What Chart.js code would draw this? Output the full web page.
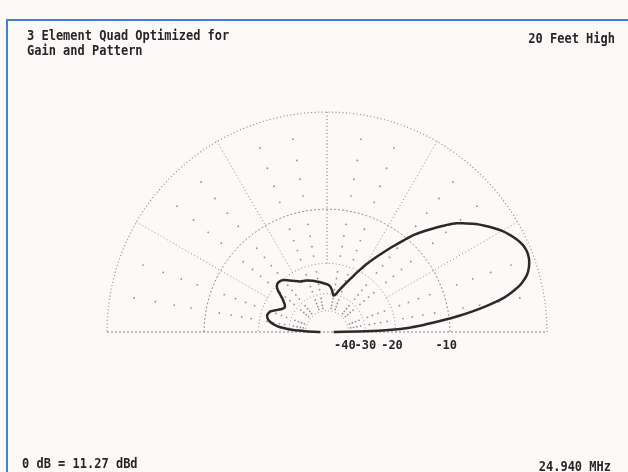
<!DOCTYPE html>
<html>
<head>
<meta charset="utf-8">
<script src="https://cdn.jsdelivr.net/npm/chart.js@4.4.1/dist/chart.umd.min.js"></script>
<style>
  html, body { margin: 0; padding: 0; background: #fcf9f8; overflow: hidden; }
  #wrap { position: relative; width: 628px; height: 472px; }
  #frame {
    position: absolute; left: 6px; top: 19px; width: 640px; height: 470px;
    border-top: 2px solid #437fd2; border-left: 2px solid #437fd2;
  }
  canvas { position: absolute; left: 0; top: 0; }
  .txt {
    position: absolute; font: bold 12px "DejaVu Sans Mono", monospace; color: #262626;
    white-space: pre; line-height: 14px; transform: scaleY(1.2); transform-origin: 0 50%;
  }
</style>
</head>
<body>
<div id="wrap">
  <div id="frame"></div>
  <canvas id="chart" width="628" height="472"></canvas>
  <div class="txt" style="left:27px; top:28px;">3 Element Quad Optimized for</div>
  <div class="txt" style="left:27px; top:43px;">Gain and Pattern</div>
  <div class="txt" style="right:13px; top:31px; text-align:right; transform-origin:100% 50%;">20 Feet High</div>
  <div class="txt" style="left:22px; top:456px;">0 dB = 11.27 dBd</div>
  <div class="txt" style="right:17px; top:459px; text-align:right; transform-origin:100% 50%;">24.940 MHz</div>
</div>
<script>
// grid: ARRL log scale rings, radial spokes, tick labels
const ringDb = [0, -10, -20, -30, -40];
const tickDb = [-40, -30, -20, -10];
const tickLabels = ["-40", "-30", "-20", "-10"];
const radialDeg = [30, 60, 90, 120, 150];
const dotDb = [-2, -4, -6, -8, -12, -14, -16, -18, -22, -24, -26, -28, -32, -34, -36, -38];
const dotDeg = [10, 20, 40, 50, 70, 80, 100, 110, 130, 140, 160, 170];

// elevation pattern, degrees above horizon -> dB
const elevDeg = [0, 1, 2, 3, 4, 5, 6, 7, 8, 9, 10, 11, 12, 13, 14, 16, 18, 20, 22, 24, 26, 28, 30,
  32, 34, 36, 38, 40, 42, 44, 46, 48, 50, 52.5, 55, 57, 60, 63, 66, 70, 74, 77, 80, 83, 86, 90,
  94, 100, 106, 112, 118, 124, 130, 135, 138, 140, 142, 144, 147, 150, 153, 156, 160, 164, 167,
  170, 172, 174, 176, 177.5, 179, 180];
const gainDb = [-60, -30, -21, -16.8, -14.5, -12.5, -10.5, -8.6, -7.0, -5.6, -4.4, -3.4, -2.7, -2.1, -1.6, -0.95, -0.6, -0.4, -0.35, -0.45, -0.7, -1.05, -1.45,
  -1.95, -2.5, -3.1, -3.8, -4.5, -5.5, -6.6, -7.7, -8.9, -10.4, -12.3, -14.2, -15.6, -17.8, -20.3, -22.7, -25.5, -28, -29.8, -30.5, -28.5, -27, -26.2,
  -25.8, -25.1, -24.3, -23.6, -23.1, -21.8, -20.2, -19.8, -20.3, -21.3, -22.8, -24.0, -25.3, -25.8, -25.2, -24.0, -22.3, -21.7, -22.0,
  -23.0, -24.3, -26.2, -30.5, -38, -48, -60];

function arrl(db) { return Math.pow(0.89, -db / 2); }
function toXY(deg, db) {
  const a = deg * Math.PI / 180, r = arrl(db);
  return { x: r * Math.cos(a), y: r * Math.sin(a) };
}

const gridColor = "rgba(110,110,110,0.75)";
const datasets = [];

datasets.push({
  data: elevDeg.map((d, i) => toXY(d, gainDb[i])),
  showLine: true, borderColor: "#2a2a2a", borderWidth: 2.5, pointRadius: 0,
  tension: 0.3, clip: false
});

ringDb.forEach(db => {
  const pts = [];
  for (let a = 0; a <= 180; a += 2) pts.push(toXY(a, db));
  datasets.push({
    data: pts, showLine: true, borderColor: gridColor, borderWidth: db === 0 ? 1.2 : 1,
    borderDash: db === -10 ? [2, 2] : [1, 2.5], pointRadius: 0, clip: false
  });
});

radialDeg.forEach(a => {
  datasets.push({
    data: [toXY(a, -20), toXY(a, 0)], showLine: true, borderColor: gridColor,
    borderWidth: a === 90 ? 1.3 : 1, borderDash: [1, 2.5], pointRadius: 0, clip: false
  });
});

datasets.push({
  data: [{ x: -1, y: 0 }, { x: 1, y: 0 }], showLine: true, borderColor: "rgba(100,100,100,0.8)",
  borderWidth: 1, borderDash: [2, 2], pointRadius: 0, clip: false
});

const dots = [];
dotDb.forEach(db => dotDeg.forEach(a => dots.push(toXY(a, db))));
datasets.push({
  data: dots, pointRadius: 0.9, pointBackgroundColor: "rgba(120,120,120,0.8)",
  pointBorderWidth: 0, clip: false
});

new Chart(document.getElementById("chart"), {
  type: "scatter",
  data: { datasets },
  options: {
    responsive: false,
    animation: false,
    events: [],
    layout: { padding: { left: 107, right: 81, top: 112, bottom: 120 } },
    plugins: { legend: { display: false }, tooltip: { enabled: false } },
    scales: {
      x: {
        type: "linear", min: -1, max: 1,
        grid: { display: false, drawTicks: false },
        border: { display: false },
        afterBuildTicks: s => { s.ticks = tickDb.map(d => ({ value: arrl(d) })); },
        afterFit: s => { s.height = 20; },
        ticks: {
          autoSkip: false, maxRotation: 0, padding: 7, color: "#262626",
          font: { family: "DejaVu Sans Mono", weight: "bold", size: 12 },
          // trailing space nudges the label left of its ring so -40 and -30 don't collide
          callback: (v, i) => i === 1 ? tickLabels[i] : tickLabels[i] + " "
        }
      },
      y: { min: 0, max: 1, display: false }
    }
  }
});
</script>
</body>
</html>
